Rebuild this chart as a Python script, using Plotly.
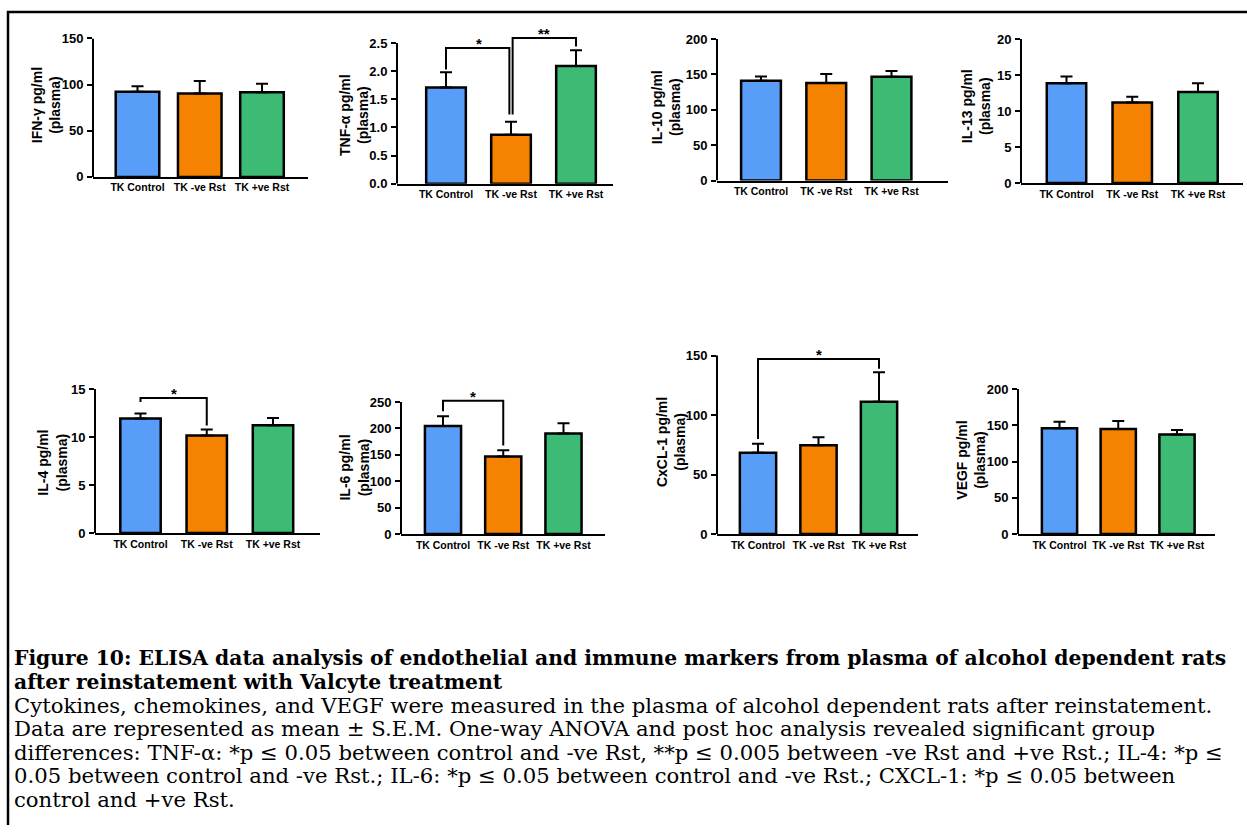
import plotly.graph_objects as go

W, H = 1247, 833

# ---------------- data ----------------
categories = ["TK Control", "TK -ve Rst", "TK +ve Rst"]

ifn_mean = [92.2, 90.4, 91.8]
ifn_sem = [6.0, 13.5, 9.2]

tnf_mean = [1.71, 0.87, 2.09]
tnf_sem = [0.27, 0.23, 0.28]

il10_mean = [141.0, 138.0, 146.8]
il10_sem = [6.0, 12.5, 8.2]

il13_mean = [13.86, 11.18, 12.64]
il13_sem = [0.96, 0.82, 1.22]

il4_mean = [11.93, 10.16, 11.22]
il4_sem = [0.51, 0.61, 0.75]

il6_mean = [204.7, 147.0, 190.4]
il6_sem = [18.6, 11.8, 19.3]

cxcl1_mean = [68.3, 74.6, 111.2]
cxcl1_sem = [7.7, 6.7, 24.8]

vegf_mean = [145.8, 145.0, 137.2]
vegf_sem = [9.1, 10.9, 6.1]

ifn_ticks = [0, 50, 100, 150]
tnf_ticks = [0, 0.5, 1.0, 1.5, 2.0, 2.5]
tnf_ticklabels = ["0.0", "0.5", "1.0", "1.5", "2.0", "2.5"]
il10_ticks = [0, 50, 100, 150, 200]
il13_ticks = [0, 5, 10, 15, 20]
il4_ticks = [0, 5, 10, 15]
il6_ticks = [0, 50, 100, 150, 200, 250]
cxcl1_ticks = [0, 50, 100, 150]
vegf_ticks = [0, 50, 100, 150, 200]

bar_colors = ["#589DF7", "#F58200", "#3DBB75"]

caption_lines = [
    ("Figure 10: ELISA data analysis of endothelial and immune markers from plasma of alcohol dependent rats", True),
    ("after reinstatement with Valcyte treatment", True),
    ("Cytokines, chemokines, and VEGF were measured in the plasma of alcohol dependent rats after reinstatement.", False),
    ("Data are represented as mean ± S.E.M. One-way ANOVA and post hoc analysis revealed significant group", False),
    ("differences: TNF-α: *p ≤ 0.05 between control and -ve Rst, **p ≤ 0.005 between -ve Rst and +ve Rst.; IL-4: *p ≤", False),
    ("0.05 between control and -ve Rst.; IL-6: *p ≤ 0.05 between control and -ve Rst.; CXCL-1: *p ≤ 0.05 between", False),
    ("control and +ve Rst.", False),
]

# ---------------- panel layout config ----------------
# geometry in pixels: ax = y-axis x, end = x-axis right end, zero = y px of 0,
# ttop = y px of the largest tick, c0 = centre of first bar, sp = bar spacing
panels = [
    dict(title="IFN-γ pg/ml", mean=ifn_mean, sem=ifn_sem, ticks=ifn_ticks, labels=None,
         ax=93, end=308, zero=173, ttop=32, c0=137.5, sp=62.25, bw=0.70, tpos=(46, 100)),
    dict(title="TNF-α pg/ml", mean=tnf_mean, sem=tnf_sem, ticks=tnf_ticks, labels=tnf_ticklabels,
         ax=397, end=613, zero=180, ttop=36.7, c0=446, sp=65, bw=0.61, tpos=(354, 110), rtop=2.75,
         brackets=[([0, 0, 0.975, 0.975], [2.03, 2.41, 2.41, 1.23], "*", 0.5),
                   ([1.025, 1.025, 2, 2], [1.23, 2.59, 2.59, 2.44], "**", 1.5)]),
    dict(title="IL-10 pg/ml", mean=il10_mean, sem=il10_sem, ticks=il10_ticks, labels=None,
         ax=717, end=948, zero=176.7, ttop=32.7, c0=761, sp=65.25, bw=0.61, tpos=(666, 102)),
    dict(title="IL-13 pg/ml", mean=il13_mean, sem=il13_sem, ticks=il13_ticks, labels=None,
         ax=1021, end=1243, zero=179.3, ttop=32.7, c0=1066.5, sp=65.75, bw=0.60, tpos=(976, 101)),
    dict(title="IL-4 pg/ml", mean=il4_mean, sem=il4_sem, ticks=il4_ticks, labels=None,
         ax=95, end=320, zero=535.7, ttop=389, c0=140.5, sp=66.25, bw=0.61, tpos=(52, 464),
         brackets=[([0, 0, 1, 1], [13.64, 14.05, 14.05, 11.2], "*", 0.5)]),
    dict(title="IL-6 pg/ml", mean=il6_mean, sem=il6_sem, ticks=il6_ticks, labels=None,
         ax=401, end=605, zero=536.7, ttop=402.3, c0=443, sp=60.25, bw=0.60, tpos=(354, 469), rtop=258,
         brackets=[([0, 0, 1, 1], [232.6, 252.5, 252.5, 167.5], "*", 0.5)]),
    dict(title="CxCL-1 pg/ml", mean=cxcl1_mean, sem=cxcl1_sem, ticks=cxcl1_ticks, labels=None,
         ax=717, end=918, zero=536.7, ttop=355, c0=758, sp=60.5, bw=0.60, tpos=(671, 443), rtop=151,
         brackets=[([0, 0, 2, 2], [79.8, 147.2, 147.2, 139.0], "*", 1.0)]),
    dict(title="VEGF pg/ml", mean=vegf_mean, sem=vegf_sem, ticks=vegf_ticks, labels=None,
         ax=1018, end=1215, zero=536.7, ttop=389, c0=1059.5, sp=58.75, bw=0.60, tpos=(971, 461)),
]

SANS = "Liberation Sans"
SERIF = "DejaVu Serif"

fig = go.Figure()
layout = {}
shapes = []
annotations = []

for k, p in enumerate(panels, start=1):
    sfx = "" if k == 1 else str(k)
    xa, ya = "x" + sfx, "y" + sfx
    M = p["ticks"][-1]
    ppu = (p["zero"] - p["ttop"]) / M
    R = p.get("rtop", M)
    top_px = p["zero"] - R * ppu
    xr = [(p["ax"] - p["c0"]) / p["sp"], (p["end"] - p["c0"]) / p["sp"]]

    fig.add_trace(go.Bar(
        x=[0, 1, 2], y=p["mean"], width=[p["bw"]] * 3,
        marker=dict(color=bar_colors, line=dict(color="black", width=2.5)),
        error_y=dict(type="data", symmetric=False, array=p["sem"], arrayminus=[0, 0, 0],
                     color="black", thickness=2, width=6),
        xaxis=xa, yaxis=ya, showlegend=False, hoverinfo="skip",
    ))

    for bx, by, star, sx in p.get("brackets", []):
        fig.add_trace(go.Scatter(
            x=bx, y=by, mode="lines", line=dict(color="black", width=2),
            xaxis=xa, yaxis=ya, showlegend=False, hoverinfo="skip", cliponaxis=False,
        ))
        annotations.append(dict(
            x=sx, y=max(by), xref=xa, yref=ya, text="<b>" + star + "</b>", showarrow=False,
            yanchor="bottom", yshift=-6, font=dict(family=SANS, size=15, color="black"),
        ))

    layout["xaxis" + sfx] = dict(
        domain=[p["ax"] / W, p["end"] / W], range=xr, anchor=ya,
        tickvals=[0, 1, 2], ticktext=categories, ticks="",
        showline=True, linecolor="black", linewidth=2,
        showgrid=False, zeroline=False, fixedrange=True,
        tickfont=dict(family=SANS, size=10.5, color="black", weight="bold"),
    )
    layout["yaxis" + sfx] = dict(
        domain=[1 - p["zero"] / H, 1 - top_px / H], range=[0, R], anchor=xa,
        tickvals=p["ticks"], ticktext=p["labels"] if p["labels"] else [str(t) for t in p["ticks"]],
        ticks="outside", ticklen=5, tickwidth=2, tickcolor="black",
        showline=False, showgrid=False, zeroline=False, fixedrange=True,
        ticklabelstandoff=1,
        tickfont=dict(family=SANS, size=13, color="black", weight="bold"),
    )
    shapes.append(dict(type="line", xref=xa + " domain", yref=ya, x0=0, x1=0, y0=0, y1=M,
                       line=dict(color="black", width=2)))

    tx, ty = p["tpos"]
    annotations.append(dict(
        x=tx / W, y=1 - ty / H, xref="paper", yref="paper", textangle=-90,
        text="<b>" + p["title"] + "</b><br><b>(plasma)</b>", showarrow=False,
        xanchor="center", yanchor="middle",
        font=dict(family=SANS, size=14, color="black"),
    ))

# frame
shapes.append(dict(type="line", xref="paper", yref="paper", x0=7 / W, x1=1.0, y0=1 - 5 / H, y1=1 - 5 / H,
                   line=dict(color="black", width=2.5)))
shapes.append(dict(type="line", xref="paper", yref="paper", x0=8 / W, x1=8 / W, y0=1 - 4 / H, y1=0,
                   line=dict(color="black", width=2.5)))

# caption
cap_y0, cap_dy = 663, 24
for i, (line, bold) in enumerate(caption_lines):
    annotations.append(dict(
        x=12 / W, y=1 - (cap_y0 + i * cap_dy) / H, xref="paper", yref="paper",
        text=("<b>" + line + "</b>") if bold else line, showarrow=False,
        xanchor="left", yanchor="middle", align="left",
        font=dict(family=SERIF, size=20.3 if bold else 21.2, color="black"),
    ))

fig.update_layout(
    width=W, height=H, autosize=False,
    margin=dict(l=0, r=0, t=0, b=0),
    paper_bgcolor="white", plot_bgcolor="white",
    showlegend=False, shapes=shapes, annotations=annotations,
    **layout,
)

fig.write_html("out.html", config={"displayModeBar": False},
               post_script="document.body.style.margin='0px';")
